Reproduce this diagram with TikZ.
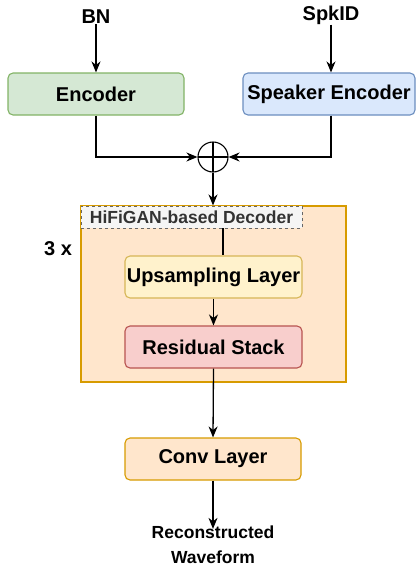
\documentclass[tikz,border=0pt]{standalone}
\usepackage{fontspec}
\setmainfont{Liberation Sans}
\usetikzlibrary{arrows.meta,calc}
\definecolor{gfill}{HTML}{D5E8D4}\definecolor{gline}{HTML}{82B366}
\definecolor{bfill}{HTML}{DAE8FC}\definecolor{bline}{HTML}{6C8EBF}
\definecolor{ofill}{HTML}{FFE6CC}\definecolor{oline}{HTML}{D79B00}
\definecolor{yfill}{HTML}{FFF2CC}\definecolor{yline}{HTML}{D6B656}
\definecolor{rfill}{HTML}{F8CECC}\definecolor{rline}{HTML}{B85450}
\definecolor{lfill}{HTML}{F5F5F5}\definecolor{lline}{HTML}{666666}
\definecolor{ltext}{HTML}{333333}
\begin{document}
\begin{tikzpicture}[x=1pt,y=-1pt,
  box/.style={draw,rounded corners=5pt,line width=1.1pt,minimum height=42pt,inner sep=0pt,
    font=\fontsize{20}{24}\selectfont\bfseries},
  lbl/.style={inner sep=0pt,font=\fontsize{20}{24}\selectfont\bfseries},
  arr/.style={line width=1.3pt,-{Stealth[length=11pt,width=9pt,inset=3.5pt]}},
  ln/.style={line width=1.3pt}]
\useasboundingbox (0,0) rectangle (416,571);
% inputs
\node[lbl] (bn) at (96,17) {BN};
\node[lbl] (spk) at (331,15) {SpkID};
\node[box,fill=gfill,draw=gline,minimum width=176pt] (enc) at (96,94) {Encoder};
\node[box,fill=bfill,draw=bline,minimum width=172pt] (senc) at (329,94) {Speaker Encoder};
\draw[arr] (bn.south) -- (bn.south |- enc.north);
\draw[arr] (spk.south) -- (spk.south |- senc.north);
% sum
\node[circle,draw,line width=1.1pt,minimum size=30pt,inner sep=0pt,
  path picture={\draw[line width=1.1pt] (path picture bounding box.north) -- (path picture bounding box.south)
  (path picture bounding box.west) -- (path picture bounding box.east);}] (sum) at (213,157) {};
\draw[arr] (enc.south) |- (sum.west);
\draw[arr] (spk.south |- senc.south) |- (sum.east);
% decoder container
\node[draw=oline,fill=ofill,line width=1.1pt,minimum width=265pt,minimum height=176pt,inner sep=0pt] (dec) at (213.5,294) {};
\node[draw=lline,fill=lfill,dashed,line width=0.8pt,minimum width=221pt,minimum height=22pt,inner sep=0pt,
  text=ltext,font=\fontsize{17.5}{20}\selectfont\bfseries] (lab) at (191.5,217) {HiFiGAN-based Decoder};
\draw[arr] (sum.south) -- (sum.south |- dec.north);
\node[lbl] (rep) at (58,249) {3 x};
\node[box,fill=yfill,draw=yline,minimum width=177pt] (up) at (213.5,277) {Upsampling Layer};
\node[box,fill=rfill,draw=rline,minimum width=177pt] (res) at (213.5,347) {Residual Stack};
\draw[ln] ([xshift=31.5pt]lab.south) -- ([xshift=31.5pt]lab.south |- up.north);
\draw[arr] (up.south) -- (res.north);
% output
\node[box,fill=ofill,draw=oline,minimum width=176pt] (conv) at (213,459) {Conv Layer};
\draw[arr] (res.south) -- (conv.north);
\node[inner sep=0pt,align=center,font=\fontsize{17.5}{25}\selectfont\bfseries] (out) at (213,545) {Reconstructed\\Waveform};
\draw[arr] (conv.south) -- ([yshift=-3pt]out.north);
\end{tikzpicture}
\end{document}
